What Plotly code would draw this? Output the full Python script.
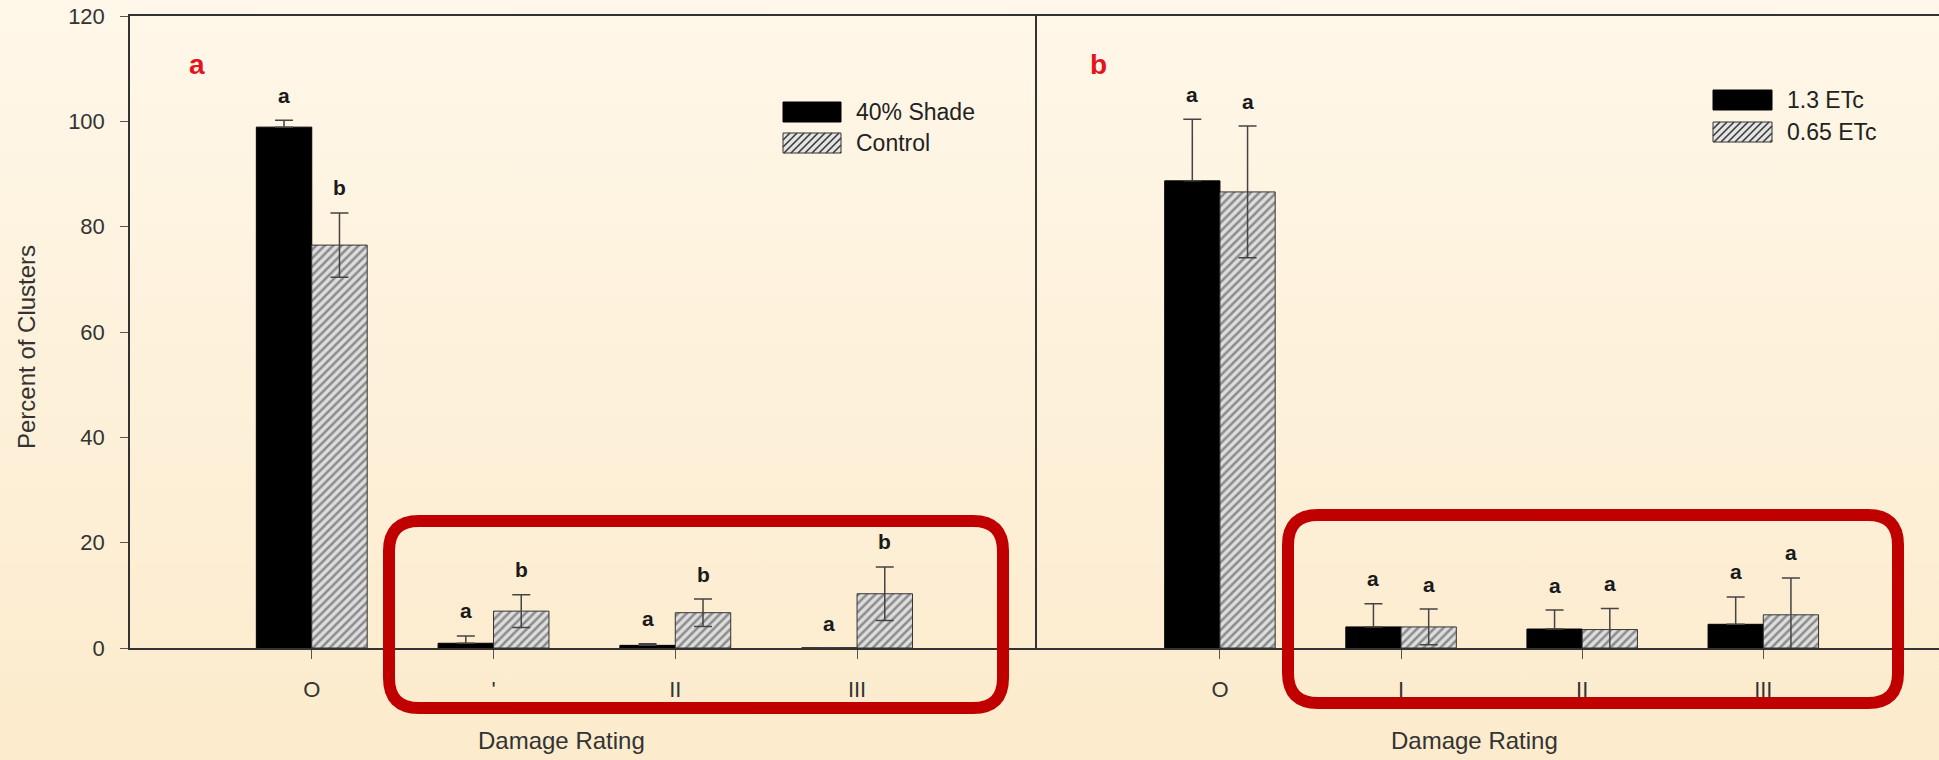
import base64
import plotly.graph_objects as go

W, H = 1939, 760

# ---------------- data ----------------
categories = ["O", "I", "II", "III"]
left_ticktext = ["O", "'", "II", "III"]
right_ticktext = ["O", "I", "II", "III"]

shade = [98.9, 0.9, 0.5, 0.0]
shade_err = [1.3, 1.4, 0.3, 0.0]
shade_letters = ["a", "a", "a", "a"]

control = [76.5, 7.0, 6.7, 10.3]
control_err = [6.1, 3.1, 2.6, 5.1]
control_letters = ["b", "b", "b", "b"]

etc_high = [88.7, 4.0, 3.6, 4.5]
etc_high_err = [11.7, 4.4, 3.6, 5.2]
etc_high_letters = ["a", "a", "a", "a"]

etc_low = [86.6, 4.0, 3.5, 6.3]
etc_low_err = [12.5, 3.4, 4.0, 7.0]
etc_low_letters = ["a", "a", "a", "a"]

# ---------------- helpers ----------------
FONT = "Liberation Sans, Arial, sans-serif"
TXT = "#333333"
BARGAP = 0.39
HALF = (1 - BARGAP) / 4


def px(x):
    return x / W


def py(y):
    return 1 - y / H


def rounded_rect(x0, y0, x1, y1, r):
    pts = [
        ("M", (x0 + r, y0)), ("L", (x1 - r, y0)), ("Q", (x1, y0), (x1, y0 + r)),
        ("L", (x1, y1 - r)), ("Q", (x1, y1), (x1 - r, y1)),
        ("L", (x0 + r, y1)), ("Q", (x0, y1), (x0, y1 - r)),
        ("L", (x0, y0 + r)), ("Q", (x0, y0), (x0 + r, y0)),
    ]
    s = ""
    for item in pts:
        cmd = item[0]
        coords = " ".join(f"{px(a):.5f},{py(b):.5f}" for a, b in item[1:])
        s += f"{cmd}{coords} "
    return s + "Z"


def hatch_path(x0, y0, x1, y1, spacing):
    h = y1 - y0
    segs = []
    a = x0 - h
    while a < x1:
        tmin = max(0, x0 - a)
        tmax = min(h, x1 - a)
        if tmax > tmin:
            segs.append(f"M{px(a + tmin):.5f},{py(y1 - tmin):.5f} L{px(a + tmax):.5f},{py(y1 - tmax):.5f}")
        a += spacing
    return " ".join(segs)


black_marker = dict(color="black", line=dict(color="black", width=1))
hatch_marker = dict(
    color="#dcdcdc",
    line=dict(color="#333333", width=1),
    pattern=dict(shape="/", fgcolor="#3a3a3a", bgcolor="#dedede", size=6, solidity=0.42),
)


def err(arr, up_only=False):
    d = dict(type="data", array=arr, color="#444444", thickness=1.5, width=9)
    if up_only:
        d.update(symmetric=False, arrayminus=[0 for _ in arr])
    return d


fig = go.Figure()

fig.add_trace(go.Bar(x=categories, y=shade, name="40% Shade", marker=black_marker,
                     error_y=err(shade_err, True), xaxis="x", yaxis="y", showlegend=False))
fig.add_trace(go.Bar(x=categories, y=control, name="Control", marker=hatch_marker,
                     error_y=err(control_err), xaxis="x", yaxis="y", showlegend=False))
fig.add_trace(go.Bar(x=categories, y=etc_high, name="1.3 ETc", marker=black_marker,
                     error_y=err(etc_high_err, True), xaxis="x2", yaxis="y2", showlegend=False))
fig.add_trace(go.Bar(x=categories, y=etc_low, name="0.65 ETc", marker=hatch_marker,
                     error_y=err(etc_low_err), xaxis="x2", yaxis="y2", showlegend=False))

annotations = []


def letters(vals, errs, labs, offset, xref, yref):
    for i, (v, e, t) in enumerate(zip(vals, errs, labs)):
        annotations.append(dict(
            x=i + offset, y=v + e, xref=xref, yref=yref, text=t, showarrow=False,
            yshift=25, yanchor="middle",
            font=dict(family=FONT, size=21, color="#1a1a1a", weight="bold"),
        ))


letters(shade, shade_err, shade_letters, -HALF, "x", "y")
letters(control, control_err, control_letters, HALF, "x", "y")
letters(etc_high, etc_high_err, etc_high_letters, -HALF, "x2", "y2")
letters(etc_low, etc_low_err, etc_low_letters, HALF, "x2", "y2")

# panel labels
for t, x in (("a", 197), ("b", 1098)):
    annotations.append(dict(x=px(x), y=py(65), xref="paper", yref="paper", text=t,
                            showarrow=False, xanchor="center", yanchor="middle",
                            font=dict(family=FONT, size=28, color="#e3141e", weight="bold")))

# axis titles
for x in (561, 1474):
    annotations.append(dict(x=px(x), y=py(740), xref="paper", yref="paper", text="Damage Rating",
                            showarrow=False, xanchor="center", yanchor="middle",
                            font=dict(family=FONT, size=24, color=TXT)))
annotations.append(dict(x=px(27), y=py(347), xref="paper", yref="paper", text="Percent of Clusters",
                        showarrow=False, textangle=-90, xanchor="center", yanchor="middle",
                        font=dict(family=FONT, size=24, color=TXT)))

# legends (custom)
shapes = []
legend_specs = [
    (783, 841, 102, 133, "40% Shade", "Control", 854),
    (1713, 1772, 90, 122, "1.3 ETc", "0.65 ETc", 1785),
]
for x0, x1, ya, yb, t1, t2, tx in legend_specs:
    shapes.append(dict(type="rect", xref="paper", yref="paper", x0=px(x0), x1=px(x1),
                       y0=py(ya), y1=py(ya + 20), fillcolor="black", line=dict(color="black", width=1)))
    shapes.append(dict(type="rect", xref="paper", yref="paper", x0=px(x0), x1=px(x1),
                       y0=py(yb), y1=py(yb + 20), fillcolor="#e4e4e4", line=dict(color="#333", width=1)))
    shapes.append(dict(type="path", xref="paper", yref="paper", path=hatch_path(x0, yb, x1, yb + 20, 7),
                       line=dict(color="#3c3c3c", width=1.6)))
    annotations.append(dict(x=px(tx), y=py(ya + 10), xref="paper", yref="paper", text=t1, showarrow=False,
                            xanchor="left", yanchor="middle", font=dict(family=FONT, size=23, color="#222")))
    annotations.append(dict(x=px(tx), y=py(yb + 10), xref="paper", yref="paper", text=t2, showarrow=False,
                            xanchor="left", yanchor="middle", font=dict(family=FONT, size=23, color="#222")))

# red highlight boxes
shapes.append(dict(type="path", xref="paper", yref="paper", path=rounded_rect(389, 521, 1003, 708, 30),
                   line=dict(color="#c00000", width=12), fillcolor="rgba(0,0,0,0)", layer="above"))
shapes.append(dict(type="path", xref="paper", yref="paper", path=rounded_rect(1288, 515, 1898, 703, 30),
                   line=dict(color="#c00000", width=12), fillcolor="rgba(0,0,0,0)", layer="above"))

# background gradient
svg = (f'<svg xmlns="http://www.w3.org/2000/svg" width="{W}" height="{H}" preserveAspectRatio="none">'
       '<defs><linearGradient id="g" x1="0" y1="0" x2="0" y2="1">'
       '<stop offset="0" stop-color="#fff7e9"/><stop offset="1" stop-color="#fcebcc"/>'
       '</linearGradient></defs><rect width="100%" height="100%" fill="url(#g)"/></svg>')
bg_src = "data:image/svg+xml;base64," + base64.b64encode(svg.encode()).decode()

axis_common = dict(showgrid=False, zeroline=False, showline=True, linecolor="#333",
                   linewidth=1.5, automargin=False)
ydom = [py(648), py(16)]

fig.update_layout(
    width=W, height=H, autosize=False,
    margin=dict(l=0, r=0, t=0, b=0, pad=0, autoexpand=False),
    paper_bgcolor="#fdf1da", plot_bgcolor="rgba(0,0,0,0)",
    barmode="group", bargap=BARGAP, bargroupgap=0,
    font=dict(family=FONT, color=TXT),
    images=[dict(source=bg_src, xref="paper", yref="paper", x=0, y=1, sizex=1, sizey=1,
                 xanchor="left", yanchor="top", sizing="stretch", layer="below")],
    xaxis=dict(domain=[px(130), px(1037)], type="category", categoryorder="array",
               categoryarray=categories, range=[-1, 3.99], anchor="y", mirror=True,
               ticks="outside", ticklen=9, tickcolor="#555", tickwidth=1.2,
               tickvals=categories, ticktext=left_ticktext, ticklabelstandoff=12,
               tickfont=dict(size=22, color=TXT), **axis_common),
    yaxis=dict(domain=ydom, range=[0, 120], dtick=20, anchor="x", ticks="outside", ticklen=8,
               tickcolor="#555", tickwidth=1.2, ticklabelstandoff=11,
               tickfont=dict(size=22, color=TXT), **axis_common),
    xaxis2=dict(domain=[px(1037), 1], type="category", categoryorder="array",
                categoryarray=categories, range=[-1.01, 3.97], anchor="y2", mirror=True,
                ticks="outside", ticklen=9, tickcolor="#555", tickwidth=1.2,
                tickvals=categories, ticktext=right_ticktext, ticklabelstandoff=12,
                tickfont=dict(size=22, color=TXT), **axis_common),
    yaxis2=dict(domain=ydom, range=[0, 120], anchor="x2", showticklabels=False, ticks="",
                **axis_common),
    annotations=annotations,
    shapes=shapes,
)

fig.write_html(
    "out.html",
    config={"displayModeBar": False},
    post_script="document.body.style.margin='0';document.body.style.padding='0';"
                "document.body.style.overflow='hidden';",
)
